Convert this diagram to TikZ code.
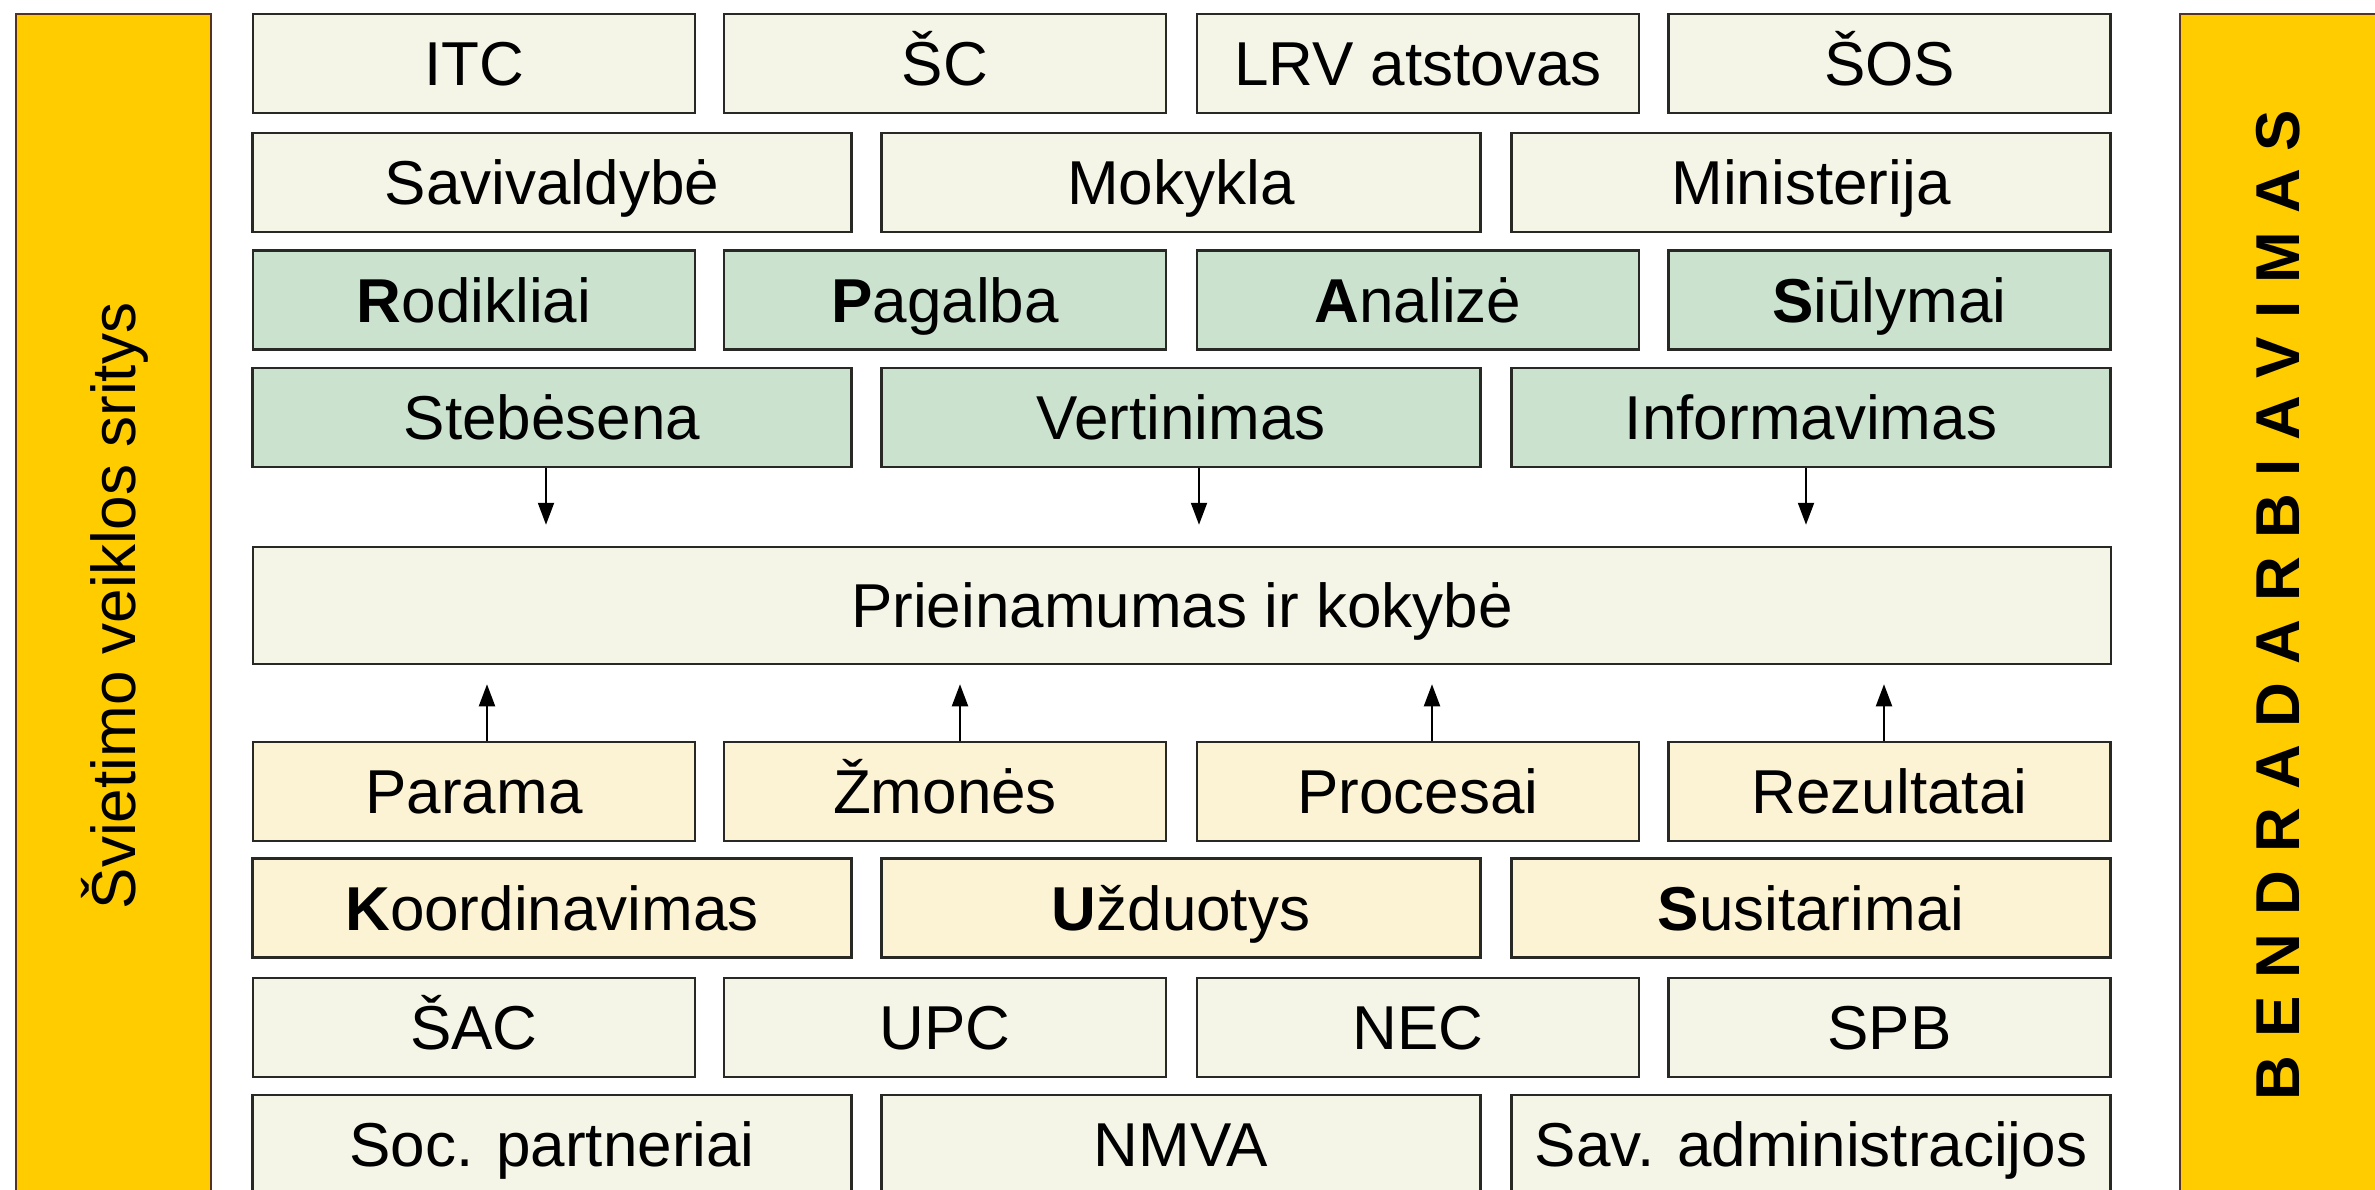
\documentclass[tikz,border=0pt]{standalone}
\usepackage{fontspec}
\setmainfont{Liberation Sans}
\usetikzlibrary{arrows.meta}
\definecolor{palebg}{RGB}{245,245,231}
\definecolor{greenbg}{RGB}{202,226,206}
\definecolor{creambg}{RGB}{252,243,213}
\definecolor{goldbar}{RGB}{255,204,0}
\definecolor{edgecol}{RGB}{40,40,36}
\definecolor{baredge}{RGB}{85,50,35}
\newcommand{\lsp}{\hspace{18pt}}
\begin{document}
\begin{tikzpicture}[x=1pt,y=-1pt,
  box/.style={draw=edgecol, line width=2.5pt, minimum height=99pt, inner sep=0pt,
    text height=44pt, text depth=0pt, font=\fontsize{62}{70}\selectfont, text=black},
  wfour/.style={minimum width=442pt},
  wthree/.style={minimum width=599pt},
  pbox/.style={box, fill=palebg},
  gbox/.style={box, fill=greenbg},
  cbox/.style={box, fill=creambg},
  sidebar/.style={draw=baredge, line width=2.5pt, fill=goldbar, inner sep=0pt,
    minimum height=1200pt},
  sidetext/.style={rotate=90, inner sep=0pt, text height=44pt, text depth=0pt, text=black},
  arr/.style={line width=2pt, -{Triangle[length=22pt,width=16pt]}}
]
\clip (0,0) rectangle (2375,1189);
\fill[white] (0,0) rectangle (2375,1189);
\useasboundingbox (0,0) rectangle (2375,1189);

% side bars
\node[sidebar, minimum width=195pt] (lbar) at (113.5,614) {};
\node[sidetext, font=\fontsize{62}{70}\selectfont] (ltext) at (113.5,606) {Švietimo veiklos sritys};
\node[sidebar, minimum width=230pt] (rbar) at (2295,614) {};
\node[sidetext, font=\fontsize{62}{70}\selectfont\bfseries] (rtext) at (2277,605)
  {B\lsp E\lsp N\lsp D\lsp R\lsp A\lsp D\lsp A\lsp R\lsp B\lsp I\lsp A\lsp V\lsp I\lsp M\lsp A\lsp S};

% row 1
\node[pbox, wfour] (itc) at (474,63.5) {ITC};
\node[pbox, wfour] (sc) at (945,63.5) {ŠC};
\node[pbox, wfour] (lrv) at (1418,63.5) {LRV atstovas};
\node[pbox, wfour] (sos) at (1889.5,63.5) {ŠOS};
% row 2
\node[pbox, wthree] (sav) at (552,182.5) {Savivaldybė};
\node[pbox, wthree] (mok) at (1181,182.5) {Mokykla};
\node[pbox, wthree] (min) at (1811,182.5) {Ministerija};
% row 3
\node[gbox, wfour] (rod) at (474,300) {\textbf{R}odikliai};
\node[gbox, wfour] (pag) at (945,300) {\textbf{P}agalba};
\node[gbox, wfour] (anl) at (1418,300) {\textbf{A}nalizė};
\node[gbox, wfour] (siu) at (1889.5,300) {\textbf{S}iūlymai};
% row 4
\node[gbox, wthree] (steb) at (552,417.5) {Stebėsena};
\node[gbox, wthree] (vert) at (1181,417.5) {Vertinimas};
\node[gbox, wthree] (info) at (1811,417.5) {Informavimas};
% centre
\node[pbox, minimum width=1858pt, minimum height=117pt] (prie) at (1182,605.5) {Prieinamumas ir kokybė};
% row 5
\node[cbox, wfour] (par) at (474,791.5) {Parama};
\node[cbox, wfour] (zmo) at (945,791.5) {Žmonės};
\node[cbox, wfour] (proc) at (1418,791.5) {Procesai};
\node[cbox, wfour] (rez) at (1889.5,791.5) {Rezultatai};
% row 6
\node[cbox, wthree] (koo) at (552,908) {\textbf{K}oordinavimas};
\node[cbox, wthree] (uzd) at (1181,908) {\textbf{U}žduotys};
\node[cbox, wthree] (sus) at (1811,908) {\textbf{S}usitarimai};
% row 7
\node[pbox, wfour] (sac) at (474,1027.5) {ŠAC};
\node[pbox, wfour] (upc) at (945,1027.5) {UPC};
\node[pbox, wfour] (nec) at (1418,1027.5) {NEC};
\node[pbox, wfour] (spb) at (1889.5,1027.5) {SPB};
% row 8
\node[pbox, wthree] (soc) at (552,1144.5) {Soc. partneriai};
\node[pbox, wthree] (nmva) at (1181,1144.5) {NMVA};
\node[pbox, wthree] (sadm) at (1811,1144.5) {Sav. administracijos};

% arrows down
\draw[arr, shorten >=21pt] ([xshift=-6pt]steb.south) -- ([xshift=-6pt]steb.south |- prie.north);
\draw[arr, shorten >=21pt] ([xshift=18pt]vert.south) -- ([xshift=18pt]vert.south |- prie.north);
\draw[arr, shorten >=21pt] ([xshift=-5pt]info.south) -- ([xshift=-5pt]info.south |- prie.north);
% arrows up
\draw[arr, shorten >=19pt] ([xshift=13pt]par.north) -- ([xshift=13pt]par.north |- prie.south);
\draw[arr, shorten >=19pt] ([xshift=15pt]zmo.north) -- ([xshift=15pt]zmo.north |- prie.south);
\draw[arr, shorten >=19pt] ([xshift=14pt]proc.north) -- ([xshift=14pt]proc.north |- prie.south);
\draw[arr, shorten >=19pt] ([xshift=-5.5pt]rez.north) -- ([xshift=-5.5pt]rez.north |- prie.south);
\end{tikzpicture}
\end{document}
